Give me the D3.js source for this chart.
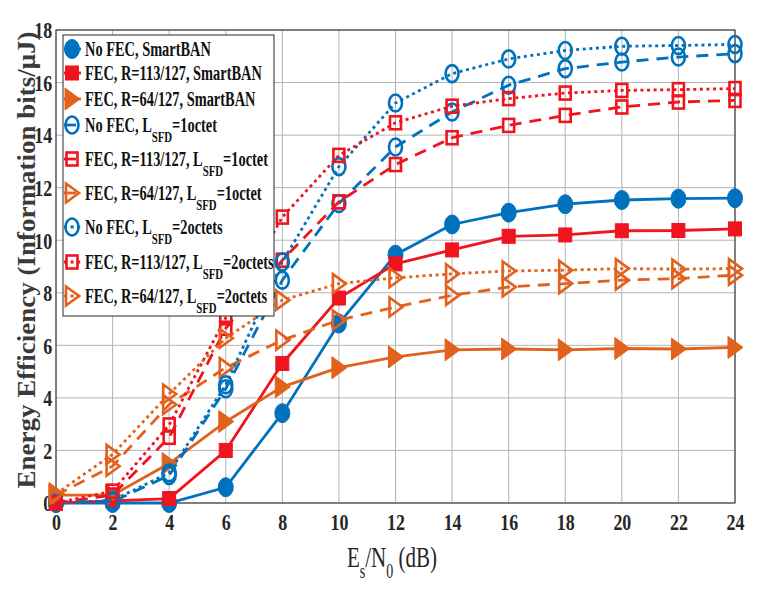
<!DOCTYPE html>
<html><head><meta charset="utf-8">
<script src="https://cdn.jsdelivr.net/npm/d3@7"></script>
<style>body{margin:0;background:#fff;} svg{display:block;}</style>
</head><body><svg id="c" width="757" height="592"></svg>
<script>
// ---- data ----
const snr = [0, 2, 4, 6, 8, 10, 12, 14, 16, 18, 20, 22, 24];
const xTicks = [0, 2, 4, 6, 8, 10, 12, 14, 16, 18, 20, 22, 24];
const yTicks = [0, 2, 4, 6, 8, 10, 12, 14, 16, 18];

const noFecSmart   = [0, 0, 0, 0.6, 3.42, 6.83, 9.45, 10.6, 11.05, 11.37, 11.53, 11.58, 11.6];
const fec113Smart  = [0, 0.08, 0.17, 2.0, 5.31, 7.8, 9.1, 9.63, 10.15, 10.2, 10.36, 10.37, 10.43];
const fec64Smart   = [0.3, 0.3, 1.5, 3.1, 4.42, 5.15, 5.56, 5.83, 5.86, 5.83, 5.88, 5.86, 5.92];
const noFec1oct    = [0, 0.05, 1.05, 4.35, 8.48, 11.4, 13.55, 14.88, 15.9, 16.53, 16.78, 16.97, 17.1];
const fec113_1oct  = [0, 0.3, 2.5, 6.65, 9.24, 11.46, 12.88, 13.9, 14.37, 14.75, 15.07, 15.26, 15.32];
const fec64_1oct   = [0.3, 1.4, 3.75, 5.15, 6.2, 6.96, 7.46, 7.9, 8.22, 8.35, 8.48, 8.54, 8.67];
const noFec2oct    = [0, 0.1, 1.15, 4.5, 9.17, 12.8, 15.22, 16.34, 16.9, 17.22, 17.38, 17.41, 17.45];
const fec113_2oct  = [0, 0.45, 2.97, 7.05, 10.88, 13.23, 14.47, 15.1, 15.39, 15.6, 15.7, 15.73, 15.77];
const fec64_2oct   = [0.35, 1.85, 4.15, 6.27, 7.72, 8.35, 8.57, 8.72, 8.83, 8.86, 8.92, 8.9, 8.92];

const seriesValues = [noFecSmart, fec113Smart, fec64Smart, noFec1oct, fec113_1oct, fec64_1oct, noFec2oct, fec113_2oct, fec64_2oct];
// legend labels: [main, subscript, after]
const seriesLabels = [
  ["No FEC, SmartBAN", "", ""],
  ["FEC, R=113/127, SmartBAN", "", ""],
  ["FEC, R=64/127, SmartBAN", "", ""],
  ["No FEC, L", "SFD", "=1octet"],
  ["FEC, R=113/127, L", "SFD", "=1octet"],
  ["FEC, R=64/127, L", "SFD", "=1octet"],
  ["No FEC, L", "SFD", "=2octets"],
  ["FEC, R=113/127, L", "SFD", "=2octets"],
  ["FEC, R=64/127, L", "SFD", "=2octets"]
];

// ---- styles ----
const BLUE = "#0072BD", RED = "#F0141E", ORANGE = "#E2611D";
const colors  = [BLUE, RED, ORANGE, BLUE, RED, ORANGE, BLUE, RED, ORANGE];
const markers = ["circle", "square", "tri", "circle", "square", "tri", "circle", "square", "tri"];
const filled  = [true, true, true, false, false, false, false, false, false];
const dashes  = [null, null, null, "12,8", "12,8", "12,8", "3,3.6", "3,3.6", "3,3.6"];

const svg = d3.select("#c");
const FONT = "'Liberation Serif','Times New Roman',serif";
const INK = "#262626";

const x = d3.scaleLinear().domain([0, 24]).range([56, 735]);
const y = d3.scaleLinear().domain([0, 18]).range([503, 30]);

// grid
const grid = svg.append("g");
grid.selectAll("line.v").data(xTicks).join("line")
  .attr("x1", d => x(d)).attr("x2", d => x(d)).attr("y1", y(0)).attr("y2", y(18))
  .attr("stroke", "#b4b4b4").attr("stroke-width", 1);
grid.selectAll("line.h").data(yTicks).join("line")
  .attr("x1", x(0)).attr("x2", x(24)).attr("y1", d => y(d)).attr("y2", d => y(d))
  .attr("stroke", "#b4b4b4").attr("stroke-width", 1);

// axes
const gx = svg.append("g").attr("transform", `translate(0,${y(0)})`)
  .call(d3.axisBottom(x).tickValues(xTicks).tickSize(0).tickPadding(11).tickFormat(d3.format("d")));
gx.select(".domain").remove();
gx.selectAll("text").attr("font-family", FONT).attr("font-weight", "bold").attr("font-size", 23)
  .attr("fill", INK).attr("transform", "scale(0.78,1)");

const gy = svg.append("g").attr("transform", `translate(${x(0)},0)`)
  .call(d3.axisLeft(y).tickValues(yTicks).tickSize(0).tickPadding(5).tickFormat(d3.format("d")));
gy.select(".domain").remove();
gy.selectAll("text").attr("font-family", FONT).attr("font-weight", "bold").attr("font-size", 23)
  .attr("fill", INK).attr("dy", "0.34em").attr("transform", "scale(0.78,1)");

// box
svg.append("rect").attr("x", x(0)).attr("y", y(18)).attr("width", x(24) - x(0)).attr("height", y(0) - y(18))
  .attr("fill", "none").attr("stroke", INK).attr("stroke-width", 1);

// marker drawer
function drawMarker(g, type, isFilled, color, cx, cy) {
  let el;
  if (type === "circle") {
    el = g.append("ellipse").attr("cx", cx).attr("cy", cy)
      .attr("rx", isFilled ? 7.5 : 6.5).attr("ry", isFilled ? 9.5 : 8.5);
  } else if (type === "square") {
    const w = isFilled ? 13 : 11, h = isFilled ? 14 : 13;
    el = g.append("rect").attr("x", cx - w / 2).attr("y", cy - h / 2).attr("width", w).attr("height", h);
  } else {
    const a = isFilled ? 7 : 6, b = isFilled ? 8 : 7, c = isFilled ? 11 : 9.5;
    el = g.append("polygon").attr("points", `${cx - a},${cy - c} ${cx + b},${cy} ${cx - a},${cy + c}`);
  }
  if (isFilled) el.attr("fill", color).attr("stroke", color).attr("stroke-width", 1);
  else el.attr("fill", "none").attr("stroke", color).attr("stroke-width", 2.6);
}

// series
const line = d3.line().x((d, i) => x(snr[i])).y(d => y(d));
seriesValues.forEach((vals, k) => {
  const g = svg.append("g");
  g.append("path").attr("d", line(vals)).attr("fill", "none").attr("stroke", colors[k])
    .attr("stroke-width", 2.8).attr("stroke-dasharray", dashes[k]);
  vals.forEach((v, i) => drawMarker(g, markers[k], filled[k], colors[k], x(snr[i]), y(v)));
});

// legend
const lg = svg.append("g");
lg.append("rect").attr("x", 63).attr("y", 35).attr("width", 211).attr("height", 281)
  .attr("fill", "#fff").attr("stroke", INK).attr("stroke-width", 1);
const rowY = [49, 73, 99, 125, 159, 193, 227, 262, 296];
seriesLabels.forEach((lab, k) => {
  const cy = rowY[k];
  lg.append("line").attr("x1", 64).attr("x2", 81).attr("y1", cy).attr("y2", cy)
    .attr("stroke", colors[k]).attr("stroke-width", 2.8).attr("stroke-dasharray", dashes[k]);
  drawMarker(lg, markers[k], filled[k], colors[k], 72, cy);
  const t = lg.append("text").attr("transform", `translate(85,${cy + 7}) scale(0.72,1)`)
    .attr("font-family", FONT).attr("font-weight", "bold").attr("font-size", 20).attr("fill", "#111");
  t.append("tspan").text(lab[0]);
  if (lab[1]) {
    t.append("tspan").attr("dy", 10).attr("font-size", 15).text(lab[1]);
    t.append("tspan").attr("dy", -10).text(lab[2]);
  }
});

// x label
const xl = svg.append("text").attr("transform", "translate(347,567) scale(0.7,1)")
  .attr("font-family", FONT).attr("font-size", 30).attr("fill", INK);
xl.append("tspan").text("E");
xl.append("tspan").attr("dy", 11).attr("font-size", 20).text("s");
xl.append("tspan").attr("dy", -11).text("/N");
xl.append("tspan").attr("dy", 11).attr("font-size", 20).text("0");
xl.append("tspan").attr("dy", -11).text(" (dB)");

// y label
svg.append("text").attr("transform", "translate(35,260) rotate(-90) scale(1,0.95)")
  .attr("text-anchor", "middle").attr("font-family", FONT).attr("font-weight", "bold")
  .attr("font-size", 27).attr("fill", "#3a3a3a")
  .text("Energy Efficiency (Information bits/\u03BCJ)");
</script></body></html>
